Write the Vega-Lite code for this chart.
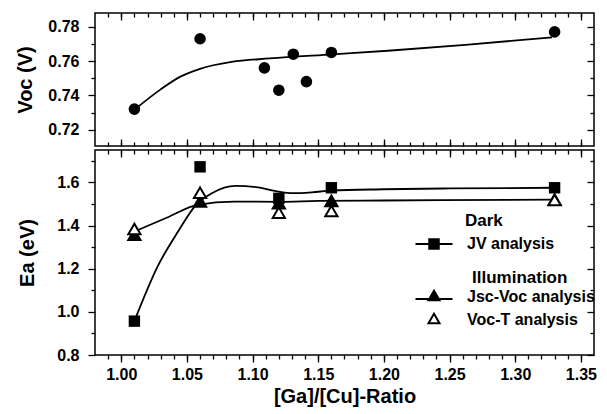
{
  "$schema": "https://vega.github.io/schema/vega-lite/v6.json",
  "padding": {"left": 15, "top": 11, "right": 8, "bottom": 5},
  "spacing": 0,
  "datasets": {
    "top_points": [
      {"ratio": 1.01, "voc": 0.732}, {"ratio": 1.06, "voc": 0.773}, {"ratio": 1.109, "voc": 0.756},
      {"ratio": 1.12, "voc": 0.743}, {"ratio": 1.131, "voc": 0.764}, {"ratio": 1.141, "voc": 0.748},
      {"ratio": 1.16, "voc": 0.765}, {"ratio": 1.33, "voc": 0.777}
    ],
    "top_curve": [
      {"ratio": 1.01, "voc": 0.7316}, {"ratio": 1.03, "voc": 0.7435}, {"ratio": 1.045, "voc": 0.7509},
      {"ratio": 1.06, "voc": 0.7555}, {"ratio": 1.084, "voc": 0.7595}, {"ratio": 1.113, "voc": 0.7615},
      {"ratio": 1.161, "voc": 0.7639}, {"ratio": 1.203, "voc": 0.766}, {"ratio": 1.262, "voc": 0.7694},
      {"ratio": 1.328, "voc": 0.7738}
    ],
    "dark_points": [
      {"ratio": 1.01, "ea": 0.957, "series": "JV analysis"}, {"ratio": 1.06, "ea": 1.672, "series": "JV analysis"},
      {"ratio": 1.12, "ea": 1.526, "series": "JV analysis"}, {"ratio": 1.16, "ea": 1.575, "series": "JV analysis"},
      {"ratio": 1.33, "ea": 1.575, "series": "JV analysis"}
    ],
    "illum_points": [
      {"ratio": 1.01, "ea": 1.357, "series": "Jsc-Voc analysis"}, {"ratio": 1.06, "ea": 1.512, "series": "Jsc-Voc analysis"},
      {"ratio": 1.12, "ea": 1.503, "series": "Jsc-Voc analysis"}, {"ratio": 1.16, "ea": 1.514, "series": "Jsc-Voc analysis"},
      {"ratio": 1.33, "ea": 1.52, "series": "Jsc-Voc analysis"},
      {"ratio": 1.01, "ea": 1.384, "series": "Voc-T analysis"}, {"ratio": 1.06, "ea": 1.552, "series": "Voc-T analysis"},
      {"ratio": 1.12, "ea": 1.46, "series": "Voc-T analysis"}, {"ratio": 1.16, "ea": 1.467, "series": "Voc-T analysis"},
      {"ratio": 1.33, "ea": 1.518, "series": "Voc-T analysis"}
    ],
    "dark_curve": [
      {"ratio": 1.01, "ea": 0.957}, {"ratio": 1.028, "ea": 1.214}, {"ratio": 1.043, "ea": 1.37},
      {"ratio": 1.057, "ea": 1.496}, {"ratio": 1.069, "ea": 1.55}, {"ratio": 1.087, "ea": 1.584},
      {"ratio": 1.104, "ea": 1.577}, {"ratio": 1.12, "ea": 1.557}, {"ratio": 1.13, "ea": 1.55},
      {"ratio": 1.145, "ea": 1.554}, {"ratio": 1.16, "ea": 1.562}, {"ratio": 1.2, "ea": 1.568},
      {"ratio": 1.25, "ea": 1.572}, {"ratio": 1.33, "ea": 1.575}
    ],
    "illum_curve": [
      {"ratio": 1.01, "ea": 1.372}, {"ratio": 1.035, "ea": 1.437}, {"ratio": 1.058, "ea": 1.496},
      {"ratio": 1.086, "ea": 1.511}, {"ratio": 1.12, "ea": 1.51}, {"ratio": 1.15, "ea": 1.514},
      {"ratio": 1.2, "ea": 1.516}, {"ratio": 1.33, "ea": 1.52}
    ]
  },
  "vconcat": [
    {
      "width": 499,
      "height": 133,
      "layer": [
        {
          "data": {"name": "top_curve"},
          "mark": {"type": "line", "color": "black", "strokeWidth": 1.8, "interpolate": "monotone"},
          "encoding": {
            "x": {"field": "ratio", "type": "quantitative", "scale": {"domain": [0.98, 1.36], "nice": false, "zero": false},
              "axis": {"orient": "bottom", "values": [1.0, 1.05, 1.1, 1.15, 1.2, 1.25, 1.3, 1.35], "labels": false, "title": null, "tickSize": -7}},
            "y": {"field": "voc", "type": "quantitative", "scale": {"domain": [0.7105, 0.788], "nice": false, "zero": false},
              "axis": {"orient": "left", "values": [0.72, 0.74, 0.76, 0.78], "format": ".2f", "title": "Voc (V)", "tickSize": 7, "titlePadding": 12}}
          }
        },
        {
          "data": {"name": "top_points"},
          "mark": {"type": "circle", "color": "black", "size": 135, "opacity": 1},
          "encoding": {
            "x": {"field": "ratio", "type": "quantitative", "scale": {"domain": [0.98, 1.36], "nice": false, "zero": false},
              "axis": {"orient": "bottom", "values": [0.99, 1.0, 1.01, 1.02, 1.03, 1.04, 1.05, 1.06, 1.07, 1.08, 1.09, 1.1, 1.11, 1.12, 1.13, 1.14, 1.15, 1.16, 1.17, 1.18, 1.19, 1.2, 1.21, 1.22, 1.23, 1.24, 1.25, 1.26, 1.27, 1.28, 1.29, 1.3, 1.31, 1.32, 1.33, 1.34, 1.35], "labels": false, "title": null, "tickSize": -4}},
            "y": {"field": "voc", "type": "quantitative", "scale": {"domain": [0.7105, 0.788], "nice": false, "zero": false},
              "axis": {"orient": "left", "values": [0.73, 0.75, 0.77], "labels": false, "title": null, "tickSize": 4}}
          }
        },
        {
          "data": {"name": "top_points"},
          "mark": {"type": "circle", "opacity": 0},
          "encoding": {
            "x": {"field": "ratio", "type": "quantitative", "scale": {"domain": [0.98, 1.36], "nice": false, "zero": false},
              "axis": {"orient": "top", "values": [1.0, 1.05, 1.1, 1.15, 1.2, 1.25, 1.3, 1.35], "labels": false, "title": null, "tickSize": -7}},
            "y": {"field": "voc", "type": "quantitative", "scale": {"domain": [0.7105, 0.788], "nice": false, "zero": false},
              "axis": {"orient": "right", "values": [0.72, 0.74, 0.76, 0.78], "labels": false, "title": null, "tickSize": -7}}
          }
        },
        {
          "data": {"name": "top_points"},
          "mark": {"type": "circle", "opacity": 0},
          "encoding": {
            "x": {"field": "ratio", "type": "quantitative", "scale": {"domain": [0.98, 1.36], "nice": false, "zero": false},
              "axis": {"orient": "top", "values": [0.99, 1.0, 1.01, 1.02, 1.03, 1.04, 1.05, 1.06, 1.07, 1.08, 1.09, 1.1, 1.11, 1.12, 1.13, 1.14, 1.15, 1.16, 1.17, 1.18, 1.19, 1.2, 1.21, 1.22, 1.23, 1.24, 1.25, 1.26, 1.27, 1.28, 1.29, 1.3, 1.31, 1.32, 1.33, 1.34, 1.35], "labels": false, "title": null, "tickSize": -4}},
            "y": {"field": "voc", "type": "quantitative", "scale": {"domain": [0.7105, 0.788], "nice": false, "zero": false},
              "axis": {"orient": "right", "values": [0.73, 0.75, 0.77], "labels": false, "title": null, "tickSize": -4}}
          }
        }
      ],
      "resolve": {"axis": {"x": "independent", "y": "independent"}}
    },
    {
      "width": 499,
      "height": 205,
      "layer": [
        {
          "data": {"name": "dark_curve"},
          "mark": {"type": "line", "color": "black", "strokeWidth": 1.8, "interpolate": "monotone"},
          "encoding": {
            "x": {"field": "ratio", "type": "quantitative", "scale": {"domain": [0.98, 1.36], "nice": false, "zero": false},
              "axis": {"orient": "bottom", "values": [1.0, 1.05, 1.1, 1.15, 1.2, 1.25, 1.3, 1.35], "format": ".2f", "title": "[Ga]/[Cu]-Ratio", "tickSize": 7, "labelPadding": 4, "titlePadding": 4}},
            "y": {"field": "ea", "type": "quantitative", "scale": {"domain": [0.8, 1.75], "nice": false, "zero": false},
              "axis": {"orient": "left", "values": [0.8, 1.0, 1.2, 1.4, 1.6], "format": ".1f", "title": "Ea (eV)", "tickSize": 7, "titlePadding": 19}}
          }
        },
        {
          "data": {"name": "illum_curve"},
          "mark": {"type": "line", "color": "black", "strokeWidth": 1.8, "interpolate": "monotone"},
          "encoding": {
            "x": {"field": "ratio", "type": "quantitative", "scale": {"domain": [0.98, 1.36], "nice": false, "zero": false},
              "axis": {"orient": "bottom", "values": [0.99, 1.0, 1.01, 1.02, 1.03, 1.04, 1.05, 1.06, 1.07, 1.08, 1.09, 1.1, 1.11, 1.12, 1.13, 1.14, 1.15, 1.16, 1.17, 1.18, 1.19, 1.2, 1.21, 1.22, 1.23, 1.24, 1.25, 1.26, 1.27, 1.28, 1.29, 1.3, 1.31, 1.32, 1.33, 1.34, 1.35], "labels": false, "title": null, "tickSize": 4}},
            "y": {"field": "ea", "type": "quantitative", "scale": {"domain": [0.8, 1.75], "nice": false, "zero": false},
              "axis": {"orient": "left", "values": [0.9, 1.1, 1.3, 1.5, 1.7], "labels": false, "title": null, "tickSize": 4}}
          }
        },
        {
          "data": {"name": "dark_points"},
          "mark": {"type": "point", "shape": "square", "filled": true, "size": 130, "opacity": 1},
          "encoding": {
            "x": {"field": "ratio", "type": "quantitative", "scale": {"domain": [0.98, 1.36], "nice": false, "zero": false},
              "axis": {"orient": "top", "values": [1.0, 1.05, 1.1, 1.15, 1.2, 1.25, 1.3, 1.35], "labels": false, "title": null, "tickSize": -7}},
            "y": {"field": "ea", "type": "quantitative", "scale": {"domain": [0.8, 1.75], "nice": false, "zero": false},
              "axis": {"orient": "right", "values": [0.8, 1.0, 1.2, 1.4, 1.6], "labels": false, "title": null, "tickSize": -7}},
            "fill": {"field": "series", "type": "nominal", "scale": {"domain": ["JV analysis"], "range": ["black"]},
              "legend": {"title": "Dark", "orient": "none", "legendX": 331, "legendY": 63, "padding": 0,
                "symbolType": "M-3.7,0H3.7M-0.95,-0.95H0.95V0.95H-0.95Z", "symbolSize": 100,
                "symbolStrokeColor": "black", "symbolStrokeWidth": 2, "symbolOpacity": 1,
                "labelOffset": 25, "titlePadding": 6,
                "encode": {"title": {"update": {"dx": {"value": 39}}}}}}
          }
        },
        {
          "data": {"name": "illum_points"},
          "mark": {"type": "point", "shape": "triangle-up", "filled": true, "size": 150, "stroke": "black", "strokeWidth": 2, "opacity": 1},
          "encoding": {
            "x": {"field": "ratio", "type": "quantitative", "scale": {"domain": [0.98, 1.36], "nice": false, "zero": false},
              "axis": {"orient": "top", "values": [0.99, 1.0, 1.01, 1.02, 1.03, 1.04, 1.05, 1.06, 1.07, 1.08, 1.09, 1.1, 1.11, 1.12, 1.13, 1.14, 1.15, 1.16, 1.17, 1.18, 1.19, 1.2, 1.21, 1.22, 1.23, 1.24, 1.25, 1.26, 1.27, 1.28, 1.29, 1.3, 1.31, 1.32, 1.33, 1.34, 1.35], "labels": false, "title": null, "tickSize": -4}},
            "y": {"field": "ea", "type": "quantitative", "scale": {"domain": [0.8, 1.75], "nice": false, "zero": false},
              "axis": {"orient": "right", "values": [0.9, 1.1, 1.3, 1.5, 1.7], "labels": false, "title": null, "tickSize": -4}},
            "fill": {"field": "series", "type": "nominal", "scale": {"domain": ["Jsc-Voc analysis", "Voc-T analysis"], "range": ["black", "white"]},
              "legend": {"title": "Illumination", "orient": "none", "legendX": 331, "legendY": 120, "padding": 0,
                "symbolSize": 100, "symbolStrokeColor": "black", "symbolStrokeWidth": 2, "symbolOpacity": 1,
                "labelOffset": 25, "titlePadding": 2, "rowPadding": 4,
                "encode": {
                  "title": {"update": {"dx": {"value": 46}}},
                  "symbols": {"update": {"shape": {"signal": "datum.value === 'Voc-T analysis' ? 'M0,-1.27L1.1,0.63H-1.1Z' : 'M-3.7,0.4H3.7M0,-1.27L1.1,0.63H-1.1Z'"}}}
                }}}
          }
        }
      ],
      "resolve": {
        "axis": {"x": "independent", "y": "independent"},
        "scale": {"fill": "independent"},
        "legend": {"fill": "independent"}
      }
    }
  ],
  "config": {
    "font": "Liberation Sans",
    "view": {"stroke": "black", "strokeWidth": 1.5},
    "axis": {
      "grid": false,
      "domain": false,
      "tickColor": "black",
      "tickWidth": 1.3,
      "labelFont": "Liberation Sans",
      "labelFontSize": 16,
      "labelFontWeight": "bold",
      "labelColor": "black",
      "labelPadding": 9,
      "titleFont": "Liberation Sans",
      "titleFontSize": 20,
      "titleFontWeight": "bold",
      "titleColor": "black"
    },
    "legend": {
      "labelFont": "Liberation Sans",
      "labelFontSize": 16,
      "labelFontWeight": "bold",
      "labelColor": "black",
      "titleFont": "Liberation Sans",
      "titleFontSize": 17,
      "titleFontWeight": "bold",
      "titleColor": "black"
    }
  }
}
